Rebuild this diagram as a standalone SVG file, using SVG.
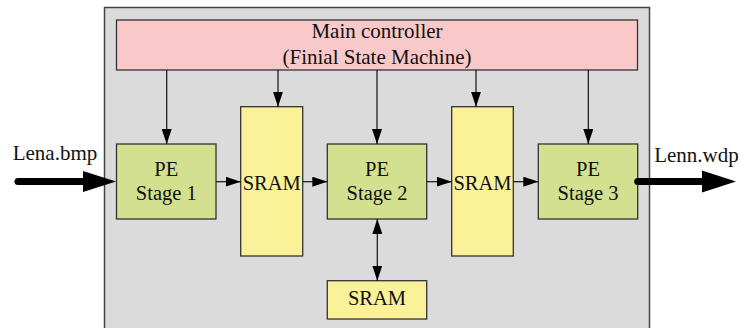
<svg xmlns="http://www.w3.org/2000/svg" width="740" height="328" viewBox="0 0 740 328">
  <style>
    .box { stroke: #333333; stroke-width: 1.3; }
    .pe { fill: #d2e08f; }
    .sram { fill: #faf199; }
    .ctrl { fill: #f9c8c8; }
    .wire { stroke: #111111; stroke-width: 1.2; fill: none; }
    .bus { stroke: #000000; stroke-width: 7; fill: none; stroke-linecap: round; }
  </style>
  <defs>
    <marker id="head" viewBox="0 0 15 10" refX="15" refY="5" markerWidth="15" markerHeight="10" markerUnits="userSpaceOnUse" orient="auto">
      <path d="M0,0 L15,5 L0,10 Z" fill="#000000"/>
    </marker>
    <marker id="headStart" viewBox="0 0 15 10" refX="0" refY="5" markerWidth="15" markerHeight="10" markerUnits="userSpaceOnUse" orient="auto">
      <path d="M15,0 L0,5 L15,10 Z" fill="#000000"/>
    </marker>
  </defs>

  <rect width="740" height="328" fill="#ffffff"/>

  <!-- system enclosure -->
  <g id="system">
    <rect x="104.5" y="7.5" width="545" height="330" fill="#dbdbdb" stroke="#444444" stroke-width="1.5"/>
  </g>

  <g font-family="'Liberation Serif', 'Times New Roman', Times, serif" font-size="20.5" fill="#111111" text-anchor="middle">
    <g id="controller">
      <rect class="box ctrl" x="116.5" y="20" width="521" height="50"/>
      <text x="377" y="37.5" font-size="21" fill="#111111">Main controller</text>
      <text x="377" y="63.5" font-size="21" fill="#111111">(Finial State Machine)</text>
    </g>

    <g id="pe1">
      <rect class="box pe" x="116.5" y="144" width="99.5" height="75"/>
      <text x="166.3" y="175.5" fill="#111111">PE</text>
      <text x="166.3" y="200" fill="#111111">Stage 1</text>
    </g>

    <g id="sram1">
      <rect class="box sram" x="240.7" y="106.7" width="62" height="149.3"/>
      <text x="271.7" y="190" fill="#111111">SRAM</text>
    </g>

    <g id="pe2">
      <rect class="box pe" x="327.3" y="144" width="99.4" height="75"/>
      <text x="377" y="175.5" fill="#111111">PE</text>
      <text x="377" y="200" fill="#111111">Stage 2</text>
    </g>

    <g id="sram2">
      <rect class="box sram" x="451.7" y="106.7" width="61.6" height="149.3"/>
      <text x="482.5" y="190" fill="#111111">SRAM</text>
    </g>

    <g id="pe3">
      <rect class="box pe" x="538.3" y="144" width="99.4" height="75"/>
      <text x="588" y="175.5" fill="#111111">PE</text>
      <text x="588" y="200" fill="#111111">Stage 3</text>
    </g>

    <g id="sram3">
      <rect class="box sram" x="327.3" y="280.7" width="99.4" height="38.3"/>
      <text x="377" y="305" fill="#111111">SRAM</text>
    </g>

    <g id="input-label">
      <text x="55" y="160" font-size="21" fill="#111111">Lena.bmp</text>
    </g>
    <g id="output-label">
      <text x="696.5" y="161.5" font-size="21" fill="#111111">Lenn.wdp</text>
    </g>
  </g>

  <g id="connectors">
    <!-- control lines from the controller -->
    <line class="wire" x1="166.7" y1="70" x2="166.7" y2="144" marker-end="url(#head)"/>
    <line class="wire" x1="278" y1="70" x2="278" y2="106.7" marker-end="url(#head)"/>
    <line class="wire" x1="377" y1="70" x2="377" y2="144" marker-end="url(#head)"/>
    <line class="wire" x1="476" y1="70" x2="476" y2="106.7" marker-end="url(#head)"/>
    <line class="wire" x1="588.3" y1="70" x2="588.3" y2="144" marker-end="url(#head)"/>

    <!-- data path -->
    <line class="wire" x1="216" y1="181.7" x2="240.7" y2="181.7" marker-end="url(#head)"/>
    <line class="wire" x1="302.7" y1="181.7" x2="327.3" y2="181.7" marker-end="url(#head)"/>
    <line class="wire" x1="426.7" y1="181.7" x2="451.7" y2="181.7" marker-end="url(#head)"/>
    <line class="wire" x1="513.3" y1="181.7" x2="538.3" y2="181.7" marker-end="url(#head)"/>

    <!-- PE stage 2 to local SRAM -->
    <line class="wire" x1="377.3" y1="219" x2="377.3" y2="280.7" marker-start="url(#headStart)" marker-end="url(#head)"/>

    <!-- image input / output -->
    <line class="bus" x1="18" y1="181.5" x2="86" y2="181.5"/>
    <path d="M83,171 L116,181.5 L83,192 Z" fill="#000000"/>
    <line class="bus" x1="637.7" y1="181.5" x2="704" y2="181.5" stroke-linecap="butt"/>
    <path d="M702,170.5 L736,181.5 L702,192.5 Z" fill="#000000"/>
  </g>
</svg>
